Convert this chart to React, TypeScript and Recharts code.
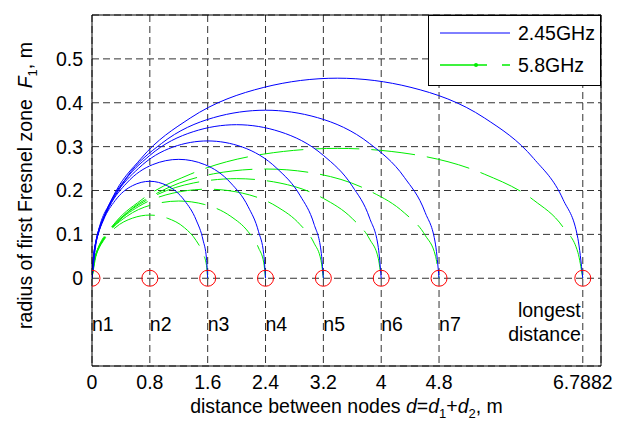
import {
  ComposedChart,
  Line,
  Scatter,
  XAxis,
  YAxis,
  CartesianGrid,
  ReferenceLine,
} from "recharts";

const FONT = "'Liberation Sans', Arial, sans-serif";
const BLUE = "#0000ff";
const GREEN = "#00ee00";

// node positions on the x axis (m) and their captions
const xTicks = [0, 0.8, 1.6, 2.4, 3.2, 4, 4.8, 6.7882];
const yTicks = [0, 0.1, 0.2, 0.3, 0.4, 0.5];
const nodeNames = ["n1", "n2", "n3", "n4", "n5", "n6", "n7", "longest distance"];

// sample distances along each link
const dist16 = [0, 0.016, 0.064, 0.16, 0.32, 0.56, 0.8, 1.04, 1.28, 1.44, 1.536, 1.584, 1.6];
const dist24 = [0, 0.024, 0.096, 0.24, 0.48, 0.84, 1.2, 1.56, 1.92, 2.16, 2.304, 2.376, 2.4];
const dist32 = [0, 0.032, 0.128, 0.32, 0.64, 1.12, 1.6, 2.08, 2.56, 2.88, 3.072, 3.168, 3.2];
const dist40 = [0, 0.04, 0.16, 0.4, 0.8, 1.4, 2, 2.6, 3.2, 3.6, 3.84, 3.96, 4];
const dist48 = [0, 0.048, 0.192, 0.48, 0.96, 1.68, 2.4, 3.12, 3.84, 4.32, 4.608, 4.752, 4.8];
const distLong = [0, 0.068, 0.272, 0.679, 1.358, 2.376, 3.394, 4.412, 5.431, 6.109, 6.517, 6.72, 6.788];

// 2.45GHz first Fresnel zone radius (m)
const blue16 = [0, 0.044, 0.087, 0.133, 0.177, 0.211, 0.221, 0.211, 0.177, 0.133, 0.087, 0.044, 0];
const blue24 = [0, 0.054, 0.106, 0.163, 0.217, 0.259, 0.271, 0.259, 0.217, 0.163, 0.106, 0.054, 0];
const blue32 = [0, 0.062, 0.123, 0.188, 0.25, 0.299, 0.313, 0.299, 0.25, 0.188, 0.123, 0.062, 0];
const blue40 = [0, 0.07, 0.137, 0.21, 0.28, 0.334, 0.35, 0.334, 0.28, 0.21, 0.137, 0.07, 0];
const blue48 = [0, 0.076, 0.15, 0.23, 0.307, 0.366, 0.383, 0.366, 0.307, 0.23, 0.15, 0.076, 0];
const blueLong = [0, 0.091, 0.179, 0.273, 0.365, 0.435, 0.456, 0.435, 0.365, 0.273, 0.179, 0.091, 0];

// 5.8GHz first Fresnel zone radius (m)
const green16 = [0, 0.029, 0.056, 0.086, 0.115, 0.137, 0.144, 0.137, 0.115, 0.086, 0.056, 0.029, 0];
const green24 = [0, 0.035, 0.069, 0.106, 0.141, 0.168, 0.176, 0.168, 0.141, 0.106, 0.069, 0.035, 0];
const green32 = [0, 0.04, 0.08, 0.122, 0.163, 0.194, 0.203, 0.194, 0.163, 0.122, 0.08, 0.04, 0];
const green40 = [0, 0.045, 0.089, 0.136, 0.182, 0.217, 0.227, 0.217, 0.182, 0.136, 0.089, 0.045, 0];
const green48 = [0, 0.05, 0.098, 0.149, 0.199, 0.238, 0.249, 0.238, 0.199, 0.149, 0.098, 0.05, 0];
const greenLong = [0, 0.059, 0.116, 0.178, 0.237, 0.283, 0.296, 0.283, 0.237, 0.178, 0.116, 0.059, 0];

const links = [
  { dist: dist16, blue: blue16, green: green16 },
  { dist: dist24, blue: blue24, green: green24 },
  { dist: dist32, blue: blue32, green: green32 },
  { dist: dist40, blue: blue40, green: green40 },
  { dist: dist48, blue: blue48, green: green48 },
  { dist: distLong, blue: blueLong, green: greenLong },
];

const toRows = (xs: number[], ys: number[]) => xs.map((x, i) => ({ x, y: ys[i] }));

const nodeRows = xTicks.map((x) => ({ x, y: 0 }));
const captionRows = xTicks.map((x, i) => ({ x, y: -0.105, name: nodeNames[i] }));

const NodeCircle = (props: any) => (
  <circle cx={props.cx} cy={props.cy} r={8} fill="none" stroke="#ff0000" strokeWidth={1} />
);

const NodeCaption = (props: any) => {
  const { cx, cy, payload } = props;
  const words = String(payload.name).split(" ");
  if (words.length > 1) {
    return (
      <text x={cx - 2} y={cy} textAnchor="end" fontSize={19.5} fontFamily={FONT} fill="#000">
        <tspan x={cx - 2} dy={-7}>{words[0]}</tspan>
        <tspan x={cx - 2} dy={24}>{words[1]}</tspan>
      </text>
    );
  }
  return (
    <text x={cx} y={cy} dy={7} textAnchor="start" fontSize={19.5} fontFamily={FONT} fill="#000">
      {payload.name}
    </text>
  );
};

const XTitle = (props: any) => {
  const { x, y, width } = props.viewBox;
  return (
    <text x={x + width / 2} y={y + 47} textAnchor="middle" fontSize={19.5} fontFamily={FONT} fill="#000">
      distance between nodes <tspan fontStyle="italic">d</tspan>=<tspan fontStyle="italic">d</tspan>
      <tspan fontSize={13} dy={5}>1</tspan>
      <tspan dy={-5}>+</tspan>
      <tspan fontStyle="italic">d</tspan>
      <tspan fontSize={13} dy={5}>2</tspan>
      <tspan dy={-5}>, m</tspan>
    </text>
  );
};

const YTitle = (props: any) => {
  const { x, y, height } = props.viewBox;
  const cx = x + 32;
  const cy = y + height / 2 - 5;
  return (
    <text
      x={cx}
      y={cy}
      transform={`rotate(-90 ${cx} ${cy})`}
      textAnchor="middle"
      fontSize={19.5}
      fontFamily={FONT}
      fill="#000"
    >
      radius of first Fresnel zone{"\u00a0\u00a0"}
      <tspan fontStyle="italic">F</tspan>
      <tspan fontSize={13} dy={5}>1</tspan>
      <tspan dy={-5}>, m</tspan>
    </text>
  );
};

function LegendBox() {
  return (
    <svg
      width={174}
      height={71}
      style={{ position: "absolute", left: 428, top: 15 }}
    >
      <rect x={0.5} y={0.5} width={172} height={70} fill="#fff" stroke="#000" />
      <line x1={12} y1={18} x2={82} y2={18} stroke={BLUE} strokeWidth={1} />
      <text x={90} y={18} dy={7} fontSize={19.5} fontFamily={FONT} fill="#000">
        2.45GHz
      </text>
      <line x1={12} y1={50} x2={82} y2={50} stroke={GREEN} strokeWidth={1.5} strokeDasharray="47 15" />
      <circle cx={48} cy={50} r={2} fill={GREEN} />
      <text x={90} y={50} dy={7} fontSize={19.5} fontFamily={FONT} fill="#000">
        5.8GHz
      </text>
    </svg>
  );
}

export default function App() {
  return (
    <div style={{ position: "absolute", left: 0, top: 0, width: 625, height: 422, background: "#fff", fontFamily: FONT }}>
      <ComposedChart
        width={625}
        height={422}
        margin={{ top: 15, right: 24, bottom: 0, left: 0 }}
      >
        <CartesianGrid stroke="#333" strokeDasharray="7 4" />
        <XAxis
          dataKey="x"
          type="number"
          domain={[0, 7.04]}
          ticks={xTicks}
          interval={0}
          allowDataOverflow
          height={56}
          tickSize={0}
          tickMargin={9}
          tickLine={false}
          axisLine={{ stroke: "#000" }}
          tick={{ fontSize: 19.5, fill: "#000", fontFamily: FONT }}
          label={{ content: XTitle }}
        />
        <YAxis
          dataKey="y"
          type="number"
          domain={[-0.2, 0.6]}
          ticks={yTicks}
          interval={0}
          allowDataOverflow
          width={92}
          tickSize={0}
          tickMargin={9}
          tickLine={false}
          axisLine={{ stroke: "#000" }}
          tick={{ fontSize: 19.5, fill: "#000", fontFamily: FONT }}
          label={{ content: YTitle }}
        />
        <ReferenceLine x={7.04} stroke="#000" strokeWidth={1} />
        <ReferenceLine y={0.6} stroke="#000" strokeWidth={1} />
        {links.map((l, i) => (
          <Line
            key={`g${i}`}
            data={toRows(l.dist, l.green)}
            dataKey="y"
            type="monotone"
            stroke={GREEN}
            strokeWidth={1}
            strokeDasharray="44 12"
            dot={false}
            activeDot={false}
            isAnimationActive={false}
            name="5.8GHz"
          />
        ))}
        {links.map((l, i) => (
          <Line
            key={`b${i}`}
            data={toRows(l.dist, l.blue)}
            dataKey="y"
            type="monotone"
            stroke={BLUE}
            strokeWidth={1}
            dot={false}
            activeDot={false}
            isAnimationActive={false}
            name="2.45GHz"
          />
        ))}
        <Scatter data={nodeRows} dataKey="y" shape={NodeCircle} isAnimationActive={false} />
        <Scatter data={captionRows} dataKey="y" shape={NodeCaption} isAnimationActive={false} />
      </ComposedChart>
      <LegendBox />
    </div>
  );
}
